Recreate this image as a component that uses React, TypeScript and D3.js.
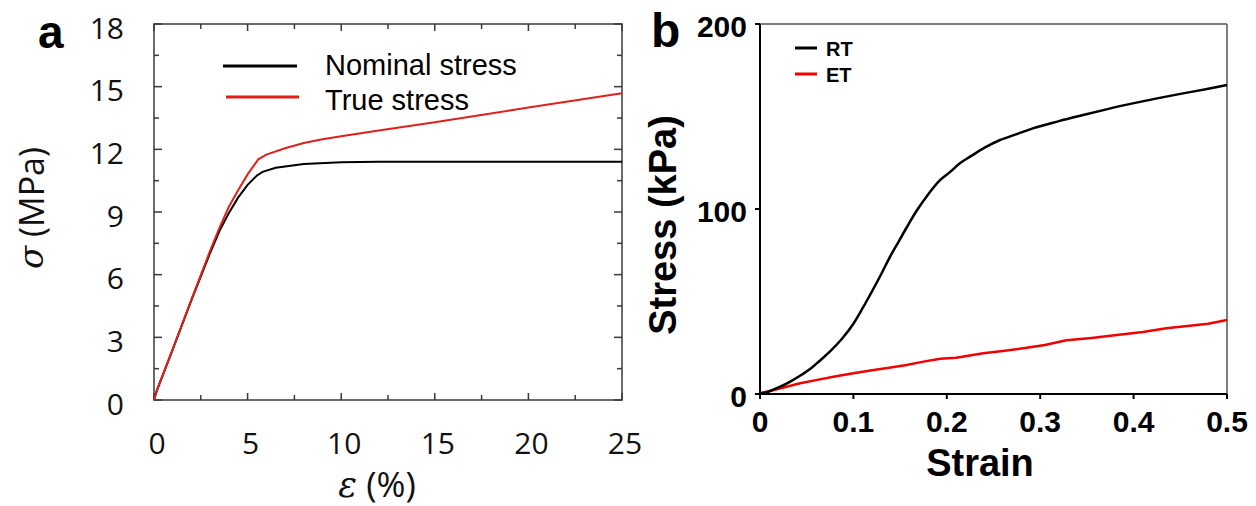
import React from "react";
import * as d3 from "d3";

// Panel a: tensile curve, strain in %, stress in MPa
const nominalStrain = [0, 0.15, 1, 2, 3, 3.5, 4, 4.5, 5, 5.5, 5.8, 6.5, 8, 10, 12, 25];
const nominalStress = [0, 0.45, 2.42, 4.78, 7.05, 8.1, 8.95, 9.7, 10.3, 10.75, 10.92, 11.12, 11.3, 11.38, 11.4, 11.4];
const trueStrain = [0, 0.15, 1, 2, 3, 3.5, 4, 4.5, 5, 5.57, 6, 7, 8, 9, 10, 12, 15, 20, 25];
const trueStress = [0, 0.45, 2.43, 4.82, 7.15, 8.25, 9.25, 10.05, 10.8, 11.52, 11.75, 12.05, 12.3, 12.48, 12.63, 12.9, 13.3, 14.0, 14.68];
const aYTicks = [0, 3, 6, 9, 12, 15, 18];
const aXTicks = [0, 5, 10, 15, 20, 25];
const aLegend = ["Nominal stress", "True stress"];

// Panel b: compression curves, strain vs stress in kPa
const rtStrain = [0, 0.01, 0.021, 0.032, 0.045, 0.055, 0.064, 0.075, 0.088, 0.1, 0.11, 0.121, 0.13, 0.139, 0.148, 0.157, 0.167, 0.178, 0.193, 0.203, 0.214, 0.225, 0.24, 0.257, 0.275, 0.292, 0.32, 0.346, 0.372, 0.399, 0.425, 0.453, 0.48, 0.5];
const rtStress = [0, 1.5, 3.8, 6.6, 10.5, 14, 18, 23, 30, 38, 46.5, 56.5, 65, 74, 82, 90, 98.5, 106.5, 115.7, 119.8, 124.7, 128.3, 133, 137.3, 140.5, 143.6, 147.5, 150.8, 154, 157.1, 159.8, 162.5, 165, 167];
const etStrain = [0, 0.01, 0.02, 0.043, 0.06, 0.08, 0.1, 0.12, 0.14, 0.157, 0.175, 0.193, 0.21, 0.239, 0.26, 0.282, 0.305, 0.328, 0.355, 0.382, 0.41, 0.435, 0.465, 0.48, 0.5];
const etStress = [0.5, 1.5, 2.8, 5.8, 7.5, 9.5, 11.2, 12.8, 14.3, 15.7, 17.5, 19.1, 19.6, 22, 23.2, 24.7, 26.5, 29, 30.3, 31.9, 33.5, 35.5, 37.2, 38, 40];
const bYTicks = [0, 100, 200];
const bXTicks = [0, 0.1, 0.2, 0.3, 0.4, 0.5];
const bLegend = ["RT", "ET"];

const W = 1256;
const H = 506;

const aBox = { left: 154, right: 622, top: 24, bottom: 400 };
const bBox = { left: 760, right: 1227, top: 24, bottom: 394 };

const zip = (xs: number[], ys: number[]) => xs.map((x, i) => [x, ys[i]] as [number, number]);

export default function App() {
  const ax = d3.scaleLinear().domain([0, 25]).range([aBox.left, aBox.right]);
  const ay = d3.scaleLinear().domain([0, 18]).range([aBox.bottom, aBox.top]);
  const bx = d3.scaleLinear().domain([0, 0.5]).range([bBox.left, bBox.right]);
  const by = d3.scaleLinear().domain([0, 200]).range([bBox.bottom, bBox.top]);

  const aLine = d3.line<[number, number]>().x((d) => ax(d[0])).y((d) => ay(d[1]));
  const bLine = d3.line<[number, number]>().x((d) => bx(d[0])).y((d) => by(d[1]));
  const bSmooth = d3.line<[number, number]>().x((d) => bx(d[0])).y((d) => by(d[1])).curve(d3.curveMonotoneX);

  const aYMinor = d3.range(0, 18.01, 1.5);
  const aXMinor = d3.range(0, 25.01, 2.5);

  const frame = "#3a3a3a";
  const redA = "#e0201c";
  const redB = "#f20000";
  const tickFont = "'Open Sans', sans-serif";
  const arial = "'Liberation Sans', Arial, sans-serif";

  return (
    <svg width={W} height={H} style={{ position: "absolute", left: 0, top: 0, background: "#fff" }}>
      {/* ---------- panel a ---------- */}
      <text x={38} y={48} fontFamily={arial} fontWeight="bold" fontSize={46}>a</text>

      {/* frame */}
      <rect x={aBox.left} y={aBox.top} width={aBox.right - aBox.left} height={aBox.bottom - aBox.top}
        fill="none" stroke={frame} strokeWidth={1.5} />
      {/* inward ticks on all four sides */}
      {aYMinor.map((v, i) => {
        const len = i % 2 === 0 ? 8 : 5;
        return (
          <g key={"ay" + i} stroke={frame} strokeWidth={1.5}>
            <line x1={aBox.left} x2={aBox.left + len} y1={ay(v)} y2={ay(v)} />
            <line x1={aBox.right} x2={aBox.right - len} y1={ay(v)} y2={ay(v)} />
          </g>
        );
      })}
      {aXMinor.map((v, i) => {
        const len = i % 2 === 0 ? 7 : 5;
        return (
          <g key={"ax" + i} stroke={frame} strokeWidth={1.5}>
            <line x1={ax(v)} x2={ax(v)} y1={aBox.bottom} y2={aBox.bottom - len} />
            <line x1={ax(v)} x2={ax(v)} y1={aBox.top} y2={aBox.top + len} />
          </g>
        );
      })}
      {aYTicks.map((v) => (
        <text key={"ayt" + v} x={124} y={ay(v) + 3} textAnchor="end" dominantBaseline="central"
          fontFamily={tickFont} fontSize={30} fill="#111">{v}</text>
      ))}
      {aXTicks.map((v) => (
        <text key={"axt" + v} x={ax(v) + 3} y={442} textAnchor="middle" dominantBaseline="central"
          fontFamily={tickFont} fontSize={30} fill="#111">{v}</text>
      ))}
      <text x={377} y={497} textAnchor="middle" fontFamily={tickFont} fontSize={35} fill="#111">
        <tspan fontFamily="'DejaVu Serif', serif" fontStyle="italic">ε</tspan> (%)
      </text>
      <text transform="translate(31,208) rotate(-90)" textAnchor="middle" dominantBaseline="central"
        fontFamily={tickFont} fontSize={34} fill="#111">
        <tspan fontFamily="'DejaVu Serif', serif" fontStyle="italic">σ</tspan> (MPa)
      </text>

      {/* curves */}
      <path d={aLine(zip(nominalStrain, nominalStress)) ?? ""} fill="none" stroke="#000" strokeWidth={2} />
      <path d={aLine(zip(trueStrain, trueStress)) ?? ""} fill="none" stroke={redA} strokeWidth={2} />

      {/* legend */}
      <line x1={223} x2={297} y1={66} y2={66} stroke="#000" strokeWidth={3} />
      <line x1={226} x2={299} y1={97} y2={97} stroke={redA} strokeWidth={3} />
      <text x={325} y={75} fontFamily={arial} fontSize={29} fill="#000">{aLegend[0]}</text>
      <text x={325} y={110} fontFamily={arial} fontSize={29} fill="#000">{aLegend[1]}</text>

      {/* ---------- panel b ---------- */}
      <text x={651} y={47} fontFamily={arial} fontWeight="bold" fontSize={48}>b</text>

      {/* top and right border */}
      <line x1={bBox.left} x2={bBox.right} y1={bBox.top} y2={bBox.top} stroke="#555" strokeWidth={1.5} />
      <line x1={bBox.right} x2={bBox.right} y1={bBox.top} y2={bBox.bottom} stroke="#555" strokeWidth={1.5} />
      {/* axes */}
      <line x1={bBox.left} x2={bBox.left} y1={bBox.top} y2={bBox.bottom} stroke="#000" strokeWidth={2} />
      <line x1={bBox.left} x2={bBox.right} y1={bBox.bottom} y2={bBox.bottom} stroke="#000" strokeWidth={2} />
      {bYTicks.map((v) => (
        <g key={"byt" + v}>
          <line x1={bBox.left - 5} x2={bBox.left} y1={by(v)} y2={by(v)} stroke="#000" strokeWidth={2} />
          <text x={747} y={by(v) + 2} textAnchor="end" dominantBaseline="central"
            fontFamily={arial} fontWeight="bold" fontSize={30} fill="#000">{v}</text>
        </g>
      ))}
      {bXTicks.map((v) => (
        <g key={"bxt" + v}>
          <line x1={bx(v)} x2={bx(v)} y1={bBox.bottom} y2={bBox.bottom + 5} stroke="#000" strokeWidth={2} />
          <text x={bx(v)} y={421} textAnchor="middle" dominantBaseline="central"
            fontFamily={arial} fontWeight="bold" fontSize={30} fill="#000">{v === 0 ? "0" : String(v)}</text>
        </g>
      ))}
      <text x={980} y={476} textAnchor="middle" fontFamily={arial} fontWeight="bold" fontSize={38} fill="#000">Strain</text>
      <text transform="translate(663,225) rotate(-90)" textAnchor="middle" dominantBaseline="central"
        fontFamily={arial} fontWeight="bold" fontSize={38} fill="#000">Stress (kPa)</text>

      {/* curves */}
      <path d={bLine(zip(etStrain, etStress)) ?? ""} fill="none" stroke={redB} strokeWidth={2.5} />
      <path d={bSmooth(zip(rtStrain, rtStress)) ?? ""} fill="none" stroke="#000" strokeWidth={2.5} />

      {/* legend */}
      <line x1={795} x2={817} y1={48} y2={48} stroke="#000" strokeWidth={3} />
      <line x1={795} x2={817} y1={74} y2={74} stroke={redB} strokeWidth={3} />
      <text x={826} y={56} fontFamily={arial} fontWeight="bold" fontSize={20} fill="#000">{bLegend[0]}</text>
      <text x={826} y={82} fontFamily={arial} fontWeight="bold" fontSize={20} fill="#000">{bLegend[1]}</text>
    </svg>
  );
}
